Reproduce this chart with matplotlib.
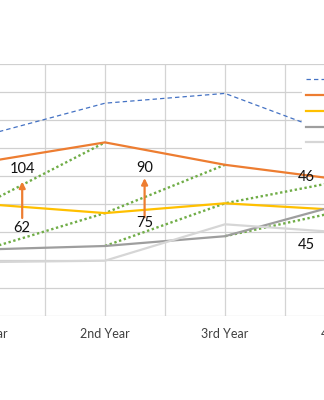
import numpy as np
import matplotlib
matplotlib.use("Agg")
import matplotlib.pyplot as plt

# DATA (y axis assumed 0..180 in steps of 20)
years = ["1st Year", "2nd Year", "3rd Year", "4th Year"]
series_names = ["Series1", "Series2", "Series3", "Series4", "Series5"]
s1 = [129, 152, 159, 127]    # blue dashed
s2 = [110, 124, 108, 97]     # orange
s3 = [80, 73.5, 80.5, 75.5]  # yellow
s4 = [47.5, 50, 57, 80.5]    # gray
s5 = [38.5, 39.5, 65.5, 59.5]  # light gray

# green dotted links: (series index, year index) chains
links = [
    [(2, 0), (1, 1)],
    [(3, 0), (2, 1), (1, 2)],
    [(3, 1), (2, 2), (1, 3)],
    [(3, 2), (2, 3)],
]

# arrow notes: x, from, to, bottom label, top label
arrow_x = [0.31, 1.33]
arrow_from = [70, 70.5]
arrow_to = [96, 98.5]
low_labels = ["62", "75"]
low_y = [63, 66.5]
high_labels = ["104", "90"]
high_y = [105, 105.5]
side_labels = ["46", "45"]
side_x = 2.68
side_y = [99.3, 50.7]

colors = ["#4472C4", "#ED7D31", "#FFC000", "#9E9E9E", "#D6D6D6"]
styles = [(0, (3.5, 2.5)), "-", "-", "-", "-"]
widths = [0.9, 1.6, 1.6, 1.6, 1.6]
green = "#70AD47"

plt.rcParams["font.family"] = ["Lato", "DejaVu Sans"]

fig = plt.figure(figsize=(3.24, 4.0), dpi=100)
# plot area runs past the edges of the picture (it is a crop)
ax = fig.add_axes([-75 / 324, 84 / 400, 480 / 324, 252 / 400])

data = [s1, s2, s3, s4, s5]
x = np.arange(len(years))

for chain in links:
    cx = [x[j] for i, j in chain]
    cy = [data[i][j] for i, j in chain]
    ax.plot(cx, cy, color=green, lw=1.7, linestyle=(0, (1, 1.1)), zorder=2)

for vals, c, ls, lw, name in zip(data, colors, styles, widths, series_names):
    ax.plot(x, vals, color=c, linestyle=ls, lw=lw, label=name, zorder=3)

for xa, y0, y1 in zip(arrow_x, arrow_from, arrow_to):
    ax.annotate("", xy=(xa, y1), xytext=(xa, y0),
                arrowprops=dict(arrowstyle="-|>", color="#ED7D31", lw=1.6,
                                mutation_scale=9, shrinkA=0, shrinkB=0),
                zorder=4)
for xa, t, y in zip(arrow_x, low_labels, low_y):
    ax.text(xa, y, t, ha="center", va="center", fontsize=10.5, color="#111111", zorder=5)
for xa, t, y in zip(arrow_x, high_labels, high_y):
    ax.text(xa, y, t, ha="center", va="center", fontsize=10.5, color="#111111", zorder=5)
for t, y in zip(side_labels, side_y):
    ax.text(side_x, y, t, ha="center", va="center", fontsize=10.5, color="#111111", zorder=5)

ax.set_xlim(-0.5, 3.5)
ax.set_ylim(0, 180)
ax.set_xticks(x)
ax.set_xticklabels(years, fontsize=9, color="#404040")
ax.set_xticks(np.arange(-0.5, 3.6, 0.5), minor=True)
ax.set_yticks(np.arange(0, 181, 20))
ax.set_yticklabels([])
ax.tick_params(axis="both", which="both", length=0)
ax.tick_params(axis="x", pad=9)
ax.grid(True, which="both", axis="x", color="#D4D4D4", lw=0.9)
ax.grid(True, which="major", axis="y", color="#D0D0D0", lw=0.9)
ax.set_axisbelow(True)
for sp in ax.spines.values():
    sp.set_visible(False)

leg = fig.legend(loc="upper left", bbox_to_anchor=(302 / 324, 1 - 70 / 400),
                 frameon=True, fontsize=9, handlelength=2.2, labelspacing=0.3,
                 borderpad=0.3, borderaxespad=0)
leg.get_frame().set_facecolor("white")
leg.get_frame().set_edgecolor("none")
leg.get_frame().set_alpha(1)
leg.set_zorder(10)

fig.savefig("out.png", dpi=100)
